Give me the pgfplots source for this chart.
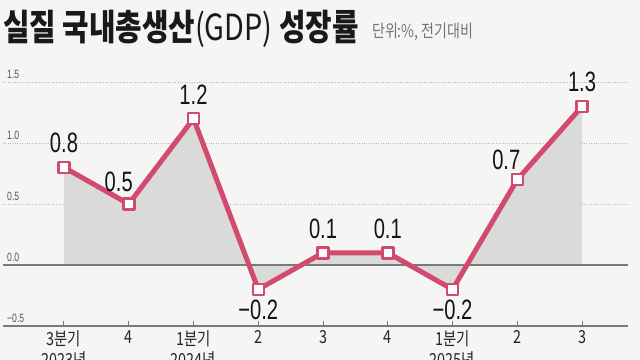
\documentclass[border=0pt]{standalone}
\usepackage{pgfplots}
\pgfplotsset{compat=1.18}
\usepackage{pgfplotstable}
\usepackage{fontspec}
\setmainfont{Liberation Sans}
\newfontfamily\kr{Noto Sans CJK KR}[FakeStretch=0.8]
\newfontfamily\num{Liberation Sans}[FakeStretch=0.72]
\definecolor{bg}{HTML}{F5F5F5}
\definecolor{linec}{HTML}{D24A6E}
\definecolor{fillc}{HTML}{DADADA}
\definecolor{gridc}{HTML}{B8B8B8}
\definecolor{axisc}{HTML}{7A7A7A}
\definecolor{tickc}{HTML}{555555}

\pgfplotstableread{
x y
0 0.8
1 0.5
2 1.2
3 -0.2
4 0.1
5 0.1
6 -0.2
7 0.7
8 1.3
}\gdp

\begin{document}
\begin{tikzpicture}
\fill[bg] (-3bp,-34bp) rectangle (637bp,326bp);
\useasboundingbox (-3bp,-34bp) rectangle (637bp,326bp);
\clip (-3bp,-34bp) rectangle (637bp,326bp);
\begin{axis}[at={(0,0)}, anchor=south west, scale only axis, width=625bp, height=244bp,
  xmin=-0.942, xmax=8.71, ymin=-0.5, ymax=1.5,
  axis x line*=bottom, axis y line*=left,
  x axis line style={draw=axisc, line width=1.3bp, -},
  y axis line style={draw=none},
  xtick={0,...,8},
  xticklabels={{3분기\\2023년},4,{1분기\\2024년},2,3,4,{1분기\\2025년},2,3},
  tick align=inside,
  major tick length=5bp,
  xtick style={draw=axisc, line width=1bp},
  ytick={-0.5,0,0.5,1,1.5},
  yticklabels={−0.5,0.0,0.5,1.0,1.5},
  ytick style={draw=none},
  ymajorgrids,
  y grid style={gridc, dotted, line width=0.9bp},
  xticklabel style={font=\kr\fontsize{18bp}{21bp}\selectfont, align=center, anchor=north, inner sep=0pt, yshift=-4bp, text=black!85},
  yticklabel style={font=\num\fontsize{12bp}{14bp}\selectfont, anchor=south west, inner sep=0pt, xshift=4bp, yshift=3bp, text=tickc},
  clip=false,
]
\addplot[fill=fillc, draw=none] coordinates {(0,0) (0,0.8) (1,0.5) (2,1.2) (3,-0.2) (4,0.1) (5,0.1) (6,-0.2) (7,0.7) (8,1.3) (8,0)} -- cycle;
\draw[axisc, line width=1.3bp] (axis cs:-0.942,0) -- (axis cs:8.71,0);
\addplot[linec, line width=5bp, line join=round, mark=square*, mark size=5.5bp, mark options={fill=white, draw=linec, line width=2.5bp}] table[x=x,y=y]{\gdp};
\tikzset{vl/.style={font=\num\fontsize{28bp}{30bp}\selectfont, inner sep=0pt, text=black!92}}
\node[vl, anchor=south, yshift=14bp] at (axis cs:0,0.8) {0.8};
\node[vl, anchor=south, yshift=12bp, xshift=-10bp] at (axis cs:1,0.5) {0.5};
\node[vl, anchor=south, yshift=14bp] at (axis cs:2,1.2) {1.2};
\node[vl, anchor=north, yshift=-10bp] at (axis cs:3,-0.2) {−0.2};
\node[vl, anchor=south, yshift=14bp] at (axis cs:4,0.1) {0.1};
\node[vl, anchor=south, yshift=14bp] at (axis cs:5,0.1) {0.1};
\node[vl, anchor=north, yshift=-10bp] at (axis cs:6,-0.2) {−0.2};
\node[vl, anchor=south, yshift=10bp, xshift=-11bp] at (axis cs:7,0.7) {0.7};
\node[vl, anchor=south, yshift=14bp] at (axis cs:8,1.3) {1.3};
\end{axis}
\node[anchor=base west, inner sep=0pt, font=\kr\fontsize{36bp}{40bp}\selectfont, text=black!90] at (0bp,285bp) {\bfseries 실질 국내총생산\mdseries(GDP) \bfseries 성장률};
\node[anchor=base west, inner sep=0pt, font=\kr\fontsize{17.5bp}{20bp}\selectfont, text=black!55] at (369bp,288bp) {단위:\%, 전기대비};
\end{tikzpicture}
\end{document}
